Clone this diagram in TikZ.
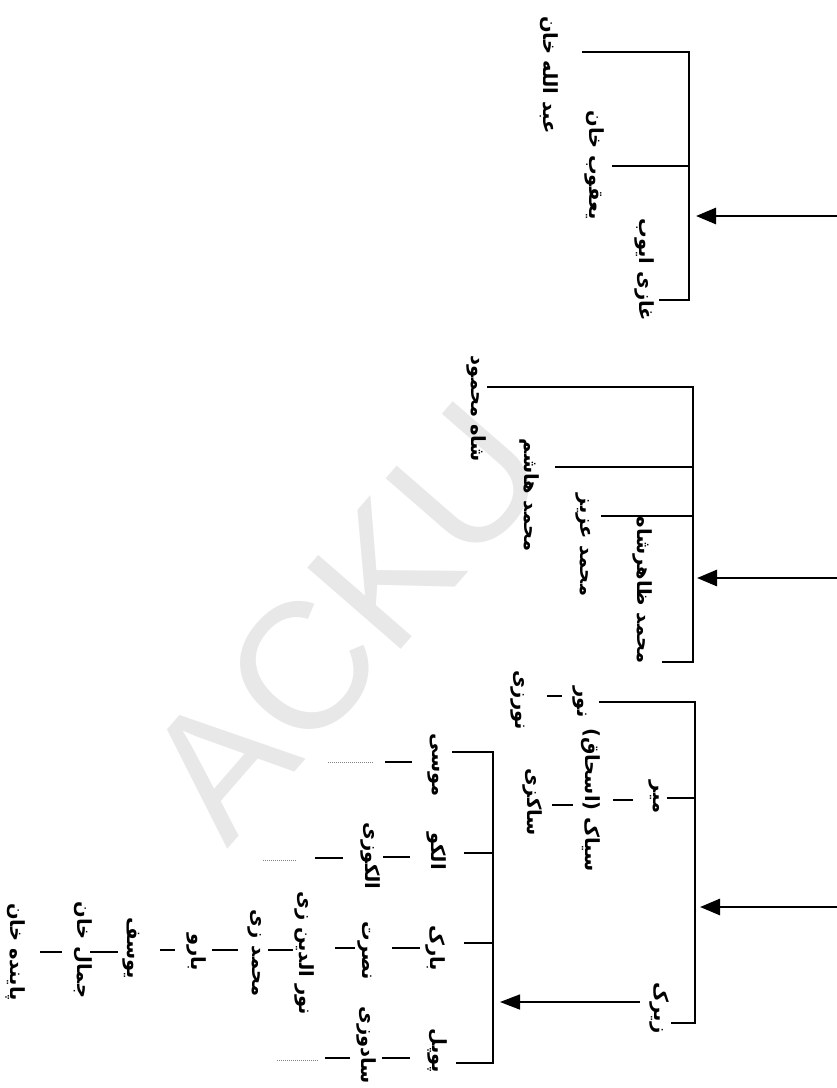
\documentclass[tikz,border=0pt]{standalone}
\usepackage{fontspec}
\newfontfamily\arabicfont[Script=Arabic]{DejaVu Sans}
\newfontfamily\wmfont{Liberation Sans}
\TeXXeTstate=1
\usetikzlibrary{arrows.meta}
\newcommand\artxt[1]{\beginR #1\endR}
\newcommand\segm[5]{\coordinate (#1a) at (#2,#4); \coordinate (#1b) at (#3,#4); \draw[#5] (#1a) -- (#1b);}
\begin{document}
\begin{tikzpicture}[x=1pt,y=-1pt,
  lbl/.style={rotate=-90, inner sep=0pt, font=\arabicfont\bfseries\fontsize{19.5}{22}\selectfont},
  tree/.style={line width=1.3pt, line cap=rect},
  dashln/.style={line width=1.3pt},
  dotln/.style={line width=1pt, gray, dash pattern=on 1pt off 1pt},
  bigarrow/.style={line width=2.8pt, -{Triangle[length=20pt,width=16pt]}},
  smallarrow/.style={line width=1.5pt, -{Triangle[length=20pt,width=15pt]}},
  wm/.style={rotate=49, text=black!9, font=\wmfont\fontsize{180}{180}\selectfont, inner sep=0pt}
]
\useasboundingbox[fill=white] (0,0) rectangle (837,1088);
% watermark
\node[wm] (wm) at (345,620) {ACKU};

% ---------- top group
\coordinate (tA) at (837,216); \coordinate (tB) at (696,216);
\draw[bigarrow] (tA) -- (tB);
\coordinate (t1) at (689,52);  \coordinate (t1e) at (583,52);
\coordinate (t2) at (689,166); \coordinate (t2e) at (613,166);
\coordinate (t3) at (689,300); \coordinate (t3e) at (660,300);
\draw[tree] (t1e) -- (t1) -- (t3) -- (t3e);
\draw[tree] (t2) -- (t2e);
\node[lbl] (abd) at (549,75) {\artxt{عبد الله خان}};
\node[lbl] (yaq) at (595,165) {\artxt{یعقوب خان}};
\node[lbl] (ghazi) at (645,270) {\artxt{غازی ایوب}};

% ---------- middle group
\coordinate (mA) at (837,578); \coordinate (mB) at (697,578);
\draw[bigarrow] (mA) -- (mB);
\coordinate (m1) at (693,387); \coordinate (m1e) at (488,387);
\coordinate (m2) at (693,467); \coordinate (m2e) at (556,467);
\coordinate (m3) at (693,516); \coordinate (m3e) at (602,516);
\coordinate (m4) at (693,662); \coordinate (m4e) at (663,662);
\draw[tree] (m1e) -- (m1) -- (m4) -- (m4e);
\draw[tree] (m2) -- (m2e);
\draw[tree] (m3) -- (m3e);
\node[lbl] (shah) at (477,409) {\artxt{شاه محمود}};
\node[lbl] (hashim) at (530,495) {\artxt{محمد هاشم}};
\node[lbl] (aziz) at (583,545) {\artxt{محمد عزیز}};
\node[lbl] (zahir) at (643,590) {\artxt{محمد ظاهرشاه}};

% ---------- bottom group
\coordinate (bA) at (837,907); \coordinate (bB) at (700,907);
\draw[bigarrow] (bA) -- (bB);
\coordinate (b1) at (695,702);  \coordinate (b1e) at (600,702);
\coordinate (b2) at (695,798);  \coordinate (b2e) at (668,798);
\coordinate (b3) at (695,1023); \coordinate (b3e) at (672,1023);
\draw[tree] (b1e) -- (b1) -- (b3) -- (b3e);
\draw[tree] (b2) -- (b2e);
\node[lbl] (nur) at (580,702) {\artxt{نور}};
\node[lbl] (nurzai) at (518,700) {\artxt{نورزی}};
\node[lbl] (mir) at (654,797) {\artxt{میر}};
\node[lbl] (siyak) at (591,800) {\artxt{سیاک (اسحاق)}};
\node[lbl] (sakzai) at (533,802) {\artxt{ساکزی}};
\node[lbl] (zirak) at (660,1008) {\artxt{زیرک}};
\segm{d1}{547}{562}{696}{dashln}
\segm{d2}{613}{633}{800}{dashln}
\segm{d3}{552}{573}{805}{dashln}

% ---------- Zirak's sons
\coordinate (zA) at (640,1002); \coordinate (zB) at (500,1002);
\draw[smallarrow] (zA) -- (zB);
\coordinate (z1) at (493,752);  \coordinate (z1e) at (453,752);
\coordinate (z2) at (493,853);  \coordinate (z2e) at (465,853);
\coordinate (z3) at (493,943);  \coordinate (z3e) at (465,943);
\coordinate (z4) at (493,1063); \coordinate (z4e) at (457,1063);
\draw[tree] (z1e) -- (z1) -- (z4) -- (z4e);
\draw[tree] (z2) -- (z2e);
\draw[tree] (z3) -- (z3e);
\node[lbl] (musa) at (434,765) {\artxt{موسی}};
\node[lbl] (alako) at (437,851) {\artxt{الکو}};
\node[lbl] (alakozai) at (371,856) {\artxt{الکوزی}};
\node[lbl] (barak) at (436,948) {\artxt{بارک}};
\node[lbl] (nusrat) at (365,951) {\artxt{نصرت}};
\node[lbl] (nuruddin) at (305,953) {\artxt{نور الدین زی}};
\node[lbl] (mzai) at (255,953) {\artxt{محمد زی}};
\node[lbl] (baro) at (197,952) {\artxt{بارو}};
\node[lbl] (yusuf) at (131,948) {\artxt{یوسف}};
\node[lbl] (jamal) at (83,950) {\artxt{جمال خان}};
\node[lbl] (painda) at (16,952) {\artxt{پاینده خان}};
\node[lbl] (popal) at (438,1051) {\artxt{پوپل}};
\node[lbl] (sadozai) at (367,1045) {\artxt{سادوزی}};
\segm{d4}{385}{412}{762}{dashln}
\segm{p4}{328}{373}{762}{dotln}
\segm{d5}{383}{410}{857}{dashln}
\segm{d6}{315}{343}{858}{dashln}
\segm{p6}{263}{297}{860}{dotln}
\segm{d7}{392}{420}{948}{dashln}
\segm{d8}{335}{355}{948}{dashln}
\segm{d9}{268}{293}{950}{dashln}
\segm{d10}{212}{238}{950}{dashln}
\segm{d11}{160}{175}{950}{dashln}
\segm{d12}{90}{118}{952}{dashln}
\segm{d13}{40}{62}{952}{dashln}
\segm{d14}{382}{410}{1058}{dashln}
\segm{d15}{325}{350}{1058}{dashln}
\segm{p15}{277}{318}{1060}{dotln}
\end{tikzpicture}
\end{document}
